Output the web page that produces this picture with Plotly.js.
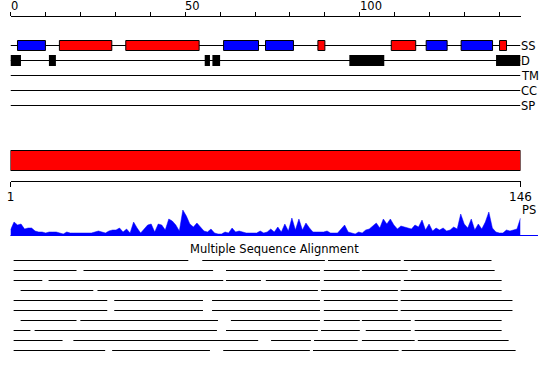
<!DOCTYPE html>
<html>
<head>
<meta charset="utf-8">
<script src="https://cdn.plot.ly/plotly-3.0.1.min.js"></script>
<style>html,body{margin:0;padding:0;background:#fff;}#chart{width:550px;height:380px;}</style>
</head>
<body>
<div id="chart"></div>
<script>
// ---- data ----
const seqLength = 146;
const rulerTicks = [0,10,20,30,40,50,60,70,80,90,100,110,120,130,140];
const rulerLabels = [0,50,100];
const helices = [[14,29],[33,54],[88,90],[109,116],[140,142]];
const strands = [[2,10],[61,71],[73,81],[119,125],[129,138]];
const disorder = [[0,3],[11,13],[55.6,57.1],[57.8,60],[97,107],[139,146]];
const tmRegions = [];
const ccRegions = [];
const spRegions = [];
const trackNames = ['SS','D','TM','CC','SP'];
const domainStart = 1;
const domainEnd = 146;
const domainTicks = [1,146];
const profileLabel = 'PS';
const profile = [6,14,11,12,7,8,8,5,4,4,3,4,4,4,3,2,4,3,3,3,
  3,3,3,3,4,5,4,3,5,6,6,8,4,7,3,14,8,3,7,11,
  12,4,12,11,6,17,15,11,5,26,20,12,9,13,9,5,4,7,3,2,
  2,4,3,8,4,5,4,3,3,3,3,5,3,4,7,4,9,4,12,5,
  18,6,17,6,13,8,4,4,4,4,5,3,3,3,7,11,4,3,2,4,
  3,6,7,10,13,8,17,12,17,11,7,10,9,8,7,11,9,16,6,12,
  5,8,6,8,5,6,9,7,22,12,8,17,6,12,7,14,24,8,4,3,
  3,6,5,6,7,18];
const alignmentTitle = 'Multiple Sequence Alignment';
const alignmentRows = [
  [[0.9,50.9],[54.9,90],[90.9,111.7],[112.6,137.7]],
  [[0.9,18.9],[20.9,58],[61.7,88.6],[89.7,100],[100.6,113.7],[114.6,138.6]],
  [[0.9,9.1],[10.9,60.9],[61.7,71.7],[73.1,88.6],[89.7,111.7],[112.6,140.6]],
  [[2.9,23.7],[24.9,88],[88.9,110.9],[111.7,140.6]],
  [[0.9,27.7],[29.7,55.1],[57.7,88.6],[89.7,110.9],[111.7,143.7]],
  [[0.9,27.7],[29.7,55.1],[57.7,88.6],[89.7,110.9],[111.7,143.7]],
  [[2.9,18.9],[20,59.4],[63.1,88.6],[89.7,100],[100.6,114.6],[115.7,140.6]],
  [[0.9,5.7],[6.9,59.1],[61.7,88],[88.9,100],[101.7,114.6],[115.7,140.6]],
  [[0.9,14.9],[18,70.9],[74.6,86],[86.9,99.4],[100.6,115.7],[116.6,142.6]],
  [[0.9,27.1],[29.1,57.1],[60.9,85.7],[86.6,111.1],[112,144.6]]
];

// ---- layout constants (pixels) ----
const W = 550, H = 380;
const FONT = 'DejaVu Sans';
const FS = 11.5;
const xDom = [10.5/W, 520.5/W];
const trackY = [45.5, 60.5, 75.5, 90.5, 105.5];
const rowY0 = 260.5, rowStep = 10;
const RED = '#ff0000', BLUE = '#0000ff';

const shapes = [];
const annotations = [];

// track lines
trackNames.forEach((n, i) => {
  shapes.push({type:'line', xref:'x', yref:'y', x0:0, x1:seqLength, y0:trackY[i], y1:trackY[i],
    line:{color:'#000', width:1}});
  annotations.push({xref:'x', yref:'y', x:seqLength, y:trackY[i], text:n, showarrow:false,
    xanchor:'left', yanchor:'middle', xshift:-2, font:{family:FONT, size:FS, color:'#000'}});
});
// secondary structure boxes
helices.forEach(r => shapes.push({type:'rect', xref:'x', yref:'y', x0:r[0], x1:r[1], y0:40.5, y1:50.5,
  fillcolor:RED, line:{color:'#000', width:1}}));
strands.forEach(r => shapes.push({type:'rect', xref:'x', yref:'y', x0:r[0], x1:r[1], y0:40.5, y1:50.5,
  fillcolor:BLUE, line:{color:'#000', width:1}}));
// disorder
disorder.forEach(r => shapes.push({type:'rect', xref:'x', yref:'y', x0:r[0], x1:r[1], y0:55, y1:66,
  fillcolor:'#000', line:{width:0}}));
[tmRegions, ccRegions, spRegions].forEach((arr, k) => arr.forEach(r => shapes.push({type:'rect', xref:'x', yref:'y',
  x0:r[0], x1:r[1], y0:trackY[k+2]-5, y1:trackY[k+2]+5, fillcolor:'#000', line:{width:0}})));

// domain bar
shapes.push({type:'rect', xref:'x2', yref:'y', x0:domainStart, x1:domainEnd, y0:150.5, y1:170.5,
  fillcolor:RED, line:{color:'#000', width:1}});

// profile baseline
shapes.push({type:'line', xref:'paper', yref:'y', x0:10.5/W, x1:538/W, y0:235.5, y1:235.5,
  line:{color:BLUE, width:1}});

// ruler labels
rulerLabels.forEach(v => annotations.push({xref:'x', yref:'y', x:v, y:6, text:String(v), showarrow:false,
  xanchor:'left', yanchor:'middle', xshift:-2, font:{family:FONT, size:FS, color:'#000'}}));

annotations.push({xref:'x2', yref:'y', x:domainEnd, y:210, text:profileLabel, showarrow:false,
  xanchor:'left', yanchor:'middle', xshift:-1, font:{family:FONT, size:FS, color:'#000'}});
annotations.push({xref:'paper', yref:'y', x:274/W, y:249, text:alignmentTitle, showarrow:false,
  xanchor:'center', yanchor:'middle', font:{family:FONT, size:FS, color:'#000'}});

const traces = [];
traces.push({type:'scatter', mode:'lines', x:profile.map((v,i)=>i+1), y:profile, xaxis:'x2', yaxis:'y2',
  fill:'tozeroy', fillcolor:BLUE, line:{color:BLUE, width:0.5}, hoverinfo:'skip'});

alignmentRows.forEach((row, r) => {
  const xs = [], ys = [];
  row.forEach(seg => { xs.push(seg[0], seg[1], null); ys.push(rowY0 + r*rowStep, rowY0 + r*rowStep, null); });
  traces.push({type:'scatter', mode:'lines', x:xs, y:ys, xaxis:'x', yaxis:'y',
    line:{color:'#000', width:1}, hoverinfo:'skip', connectgaps:false});
});

const layout = {
  width:W, height:H, margin:{l:0,r:0,t:0,b:0}, showlegend:false,
  paper_bgcolor:'#fff', plot_bgcolor:'rgba(0,0,0,0)',
  font:{family:FONT, size:FS, color:'#000'},
  xaxis:{domain:xDom, range:[0,seqLength], anchor:'free', position:1-15.5/H, side:'top',
    showline:true, linecolor:'#000', linewidth:1, ticks:'outside', ticklen:4, tickwidth:1, tickcolor:'#000',
    tickmode:'array', tickvals:rulerTicks, showticklabels:false, showgrid:false, zeroline:false, fixedrange:true},
  yaxis:{domain:[0,1], range:[H,0], visible:false, showgrid:false, zeroline:false, fixedrange:true},
  xaxis2:{domain:xDom, range:[domainStart,domainEnd], anchor:'free', position:1-180.5/H, side:'bottom',
    showline:true, linecolor:'#000', linewidth:1, ticks:'outside', ticklen:5, tickwidth:1, tickcolor:'#000',
    tickmode:'array', tickvals:domainTicks, ticktext:domainTicks.map(String), tickfont:{family:FONT, size:FS+0.5, color:'#000'},
    showgrid:false, zeroline:false, fixedrange:true},
  yaxis2:{domain:[1-236/H, 1-206/H], range:[0,30], anchor:'x2', visible:false, showgrid:false, zeroline:false, fixedrange:true},
  shapes:shapes, annotations:annotations
};

Plotly.newPlot('chart', traces, layout, {staticPlot:true, displayModeBar:false});
</script>
</body>
</html>
